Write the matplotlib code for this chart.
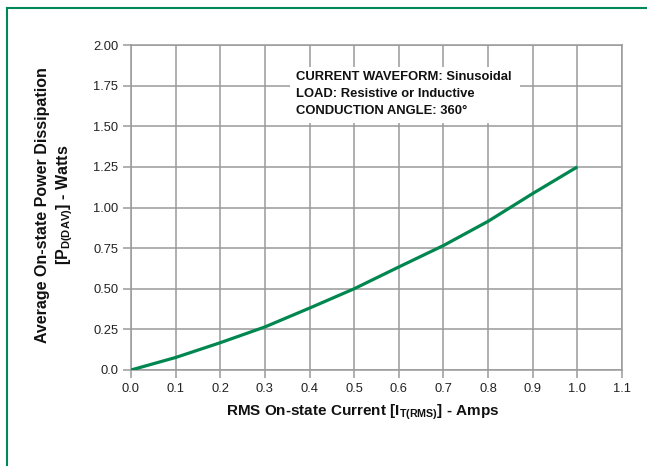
import matplotlib
matplotlib.use("Agg")
import matplotlib.pyplot as plt
from matplotlib.patches import Rectangle
from matplotlib.lines import Line2D

plt.rcParams['font.family'] = ['Liberation Sans', 'DejaVu Sans']
plt.rcParams['mathtext.fontset'] = 'custom'
plt.rcParams['mathtext.rm'] = 'Liberation Sans'
plt.rcParams['mathtext.bf'] = 'Liberation Sans:bold'

# Data
current_rms = [0.0, 0.1, 0.2, 0.3, 0.4, 0.5, 0.6, 0.7, 0.8, 0.9, 1.0]
power_dav = [0.0, 0.077, 0.168, 0.265, 0.381, 0.5, 0.634, 0.766, 0.915, 1.086, 1.25]

x_ticks = [0.0, 0.1, 0.2, 0.3, 0.4, 0.5, 0.6, 0.7, 0.8, 0.9, 1.0, 1.1]
x_tick_labels = ["0.0", "0.1", "0.2", "0.3", "0.4", "0.5", "0.6", "0.7", "0.8", "0.9", "1.0", "1.1"]
y_ticks = [0.0, 0.25, 0.5, 0.75, 1.0, 1.25, 1.5, 1.75, 2.0]
y_tick_labels = ["0.0", "0.25", "0.50", "0.75", "1.00", "1.25", "1.50", "1.75", "2.00"]

note_lines = ["CURRENT WAVEFORM: Sinusoidal",
              "LOAD: Resistive or Inductive",
              "CONDUCTION ANGLE: 360°"]

W, H = 647, 466
fig = plt.figure(figsize=(W / 100, H / 100), dpi=100)

# green frame
green = '#00875a'
fig.add_artist(Line2D([6.5 / W, 6.5 / W], [0, 1 - 8 / H], transform=fig.transFigure, color=green, lw=1.5))
fig.add_artist(Line2D([6.5 / W, 1.0], [1 - 8 / H, 1 - 8 / H], transform=fig.transFigure, color=green, lw=1.5))

x0, x1 = 131, 622
y0, y1 = 45, 370
ax = fig.add_axes([x0 / W, 1 - y1 / H, (x1 - x0) / W, (y1 - y0) / H])

grid_c = '#9a9a9a'
ax.set_xlim(0, 1.1)
ax.set_ylim(0, 2.0)
ax.set_xticks(x_ticks)
ax.set_xticklabels(x_tick_labels)
ax.set_yticks(y_ticks)
ax.set_yticklabels(y_tick_labels)
ax.grid(True, color=grid_c, lw=1.1)
ax.set_axisbelow(True)
for s in ax.spines.values():
    s.set_color(grid_c)
    s.set_linewidth(1.1)
ax.tick_params(axis='both', length=6, width=1.1, color=grid_c, labelsize=9.3,
               labelcolor='#222222', pad=3)

# annotation box covering grid
ax.add_patch(Rectangle(((290 - x0) / (x1 - x0) * 1.1, (y1 - 123) / (y1 - y0) * 2.0),
                       (520 - 290) / (x1 - x0) * 1.1, (123 - 67) / (y1 - y0) * 2.0,
                       facecolor='white', edgecolor='none', zorder=1.5))
ax.text((296 - x0) / (x1 - x0) * 1.1, (y1 - 94) / (y1 - y0) * 2.0, "\n".join(note_lines),
        fontsize=9.4, fontweight='bold', va='center', ha='left', linespacing=1.55,
        color='#111111', zorder=3)

ax.plot(current_rms, power_dav, color='#00874f', lw=2.3, zorder=4, solid_capstyle='butt',
        solid_joinstyle='round')

ax.set_xlabel(r'RMS On-state Current [I$_{\mathbf{T(RMS)}}$] - Amps', fontsize=11,
              fontweight='bold', color='#111111', va='center')
ax.xaxis.set_label_coords((363 - x0) / (x1 - x0), -(412 - y1) / (y1 - y0))
ax.set_ylabel("Average On-state Power Dissipation\n" + r'[P$_{\mathbf{D(DAV)}}$] - Watts',
              fontsize=11.5, fontweight='bold', color='#111111', linespacing=1.3, va='center')
ax.yaxis.set_label_coords((55 - x0) / (x1 - x0), (y1 - 205) / (y1 - y0))

fig.savefig("out.png", dpi=100)
